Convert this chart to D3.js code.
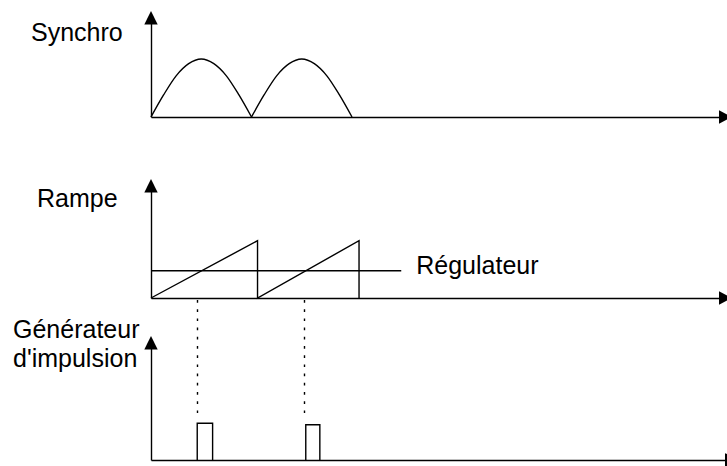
<!DOCTYPE html>
<html>
<head>
<meta charset="utf-8">
<script src="https://cdn.jsdelivr.net/npm/d3@7"></script>
<style>
  html, body { margin: 0; padding: 0; background: #fff; }
  svg { display: block; }
  text { font-family: "Liberation Sans", Arial, Helvetica, sans-serif; fill: #000; }
</style>
</head>
<body>
<svg id="chart" width="727" height="466"></svg>
<script>
// ---------------- DATA (time in ms, normalised amplitudes) ----------------
const panelLabels = ["Synchro", "Rampe", ["Générateur", "d'impulsion"]];
const regulatorLabel = "Régulateur";

// Synchro: two rectified half-waves (time, value)
const synchroArch1T = [0, 1.25, 2.5, 3.75, 5, 6.25, 7.5, 8.75, 10];
const synchroArch1V = [0, 0.38, 0.71, 0.92, 1, 0.92, 0.71, 0.38, 0];
const synchroArch2T = [10, 11.25, 12.5, 13.75, 15, 16.25, 17.5, 18.75, 20];
const synchroArch2V = [0, 0.38, 0.71, 0.92, 1, 0.92, 0.71, 0.38, 0];

// Rampe: sawtooth (time, value)
const rampeT = [0, 10.6, 10.6, 20.7, 20.7];
const rampeV = [0, 1, 0, 1, 0];

// Régulateur level and its extent
const regulatorLevel = 0.476;
const regulatorEndT = 24.9;

// Trigger instants (dotted lines) and impulse pulses
const triggerT = [4.6, 15.25];
const pulseStartT = [4.6, 15.4];
const pulseEndT = [6.13, 16.8];
const pulseHeight = [1, 0.96];

// ---------------- LAYOUT ----------------
const svg = d3.select("#chart");
const x0 = 151;
const x = d3.scaleLinear().domain([0, 20]).range([x0, 352]);
const axisEndPx = 719;      // where arrow bases sit
const ySync = d3.scaleLinear().domain([0, 1]).range([117, 59]);
const yRamp = d3.scaleLinear().domain([0, 1]).range([298, 240.7]);
const yPulse = d3.scaleLinear().domain([0, 1]).range([460, 423.3]);

const ink = "#000";
const lw = 1.4;

function arrowUp(g, cx, tipY) {
  g.append("path")
    .attr("d", `M${cx},${tipY} L${cx - 6.7},${tipY + 13.5} L${cx + 6.7},${tipY + 13.5} Z`)
    .attr("fill", ink);
}
function arrowRight(g, baseX, cy, tipX) {
  g.append("path")
    .attr("d", `M${tipX},${cy} L${baseX},${cy - 6.8} L${baseX},${cy + 6.8} Z`)
    .attr("fill", ink);
}

function drawAxes(yScale, topY, arrowBase, arrowTip) {
  const g = svg.append("g");
  // horizontal axis via d3.axisBottom without ticks
  const xAxisScale = d3.scaleLinear().domain([0, x.invert(arrowBase + 1)]).range([x0, arrowBase + 1]);
  const ax = g.append("g").attr("transform", `translate(0,${yScale(0)})`)
    .call(d3.axisBottom(xAxisScale).tickValues([]).tickSizeOuter(0));
  ax.select(".domain").attr("stroke", ink).attr("stroke-width", lw);
  arrowRight(g, arrowBase, yScale(0), arrowTip);
  // vertical axis
  const yAxisScale = d3.scaleLinear().domain([0, yScale.invert(topY + 12)]).range([yScale(0), topY + 12]);
  const ay = g.append("g").attr("transform", `translate(${x0},0)`)
    .call(d3.axisLeft(yAxisScale).tickValues([]).tickSizeOuter(0));
  ay.select(".domain").attr("stroke", ink).attr("stroke-width", lw);
  arrowUp(g, x0, topY);
  return g;
}

// ---------------- SYNCHRO ----------------
drawAxes(ySync, 11, axisEndPx, 732);
const syncLine = d3.line().x(d => x(d[0])).y(d => ySync(d[1])).curve(d3.curveMonotoneX);
[[synchroArch1T, synchroArch1V], [synchroArch2T, synchroArch2V]].forEach(([T, V]) => {
  svg.append("path")
    .attr("d", syncLine(T.map((t, i) => [t, V[i]])))
    .attr("fill", "none").attr("stroke", ink).attr("stroke-width", lw);
});

// ---------------- RAMPE ----------------
drawAxes(yRamp, 179, axisEndPx, 732);
const rampLine = d3.line().x(d => x(d[0])).y(d => yRamp(d[1]));
svg.append("path")
  .attr("d", rampLine(rampeT.map((t, i) => [t, rampeV[i]])))
  .attr("fill", "none").attr("stroke", ink).attr("stroke-width", lw).attr("stroke-linejoin", "miter");
svg.append("line")
  .attr("x1", x(0)).attr("x2", x(regulatorEndT))
  .attr("y1", yRamp(regulatorLevel)).attr("y2", yRamp(regulatorLevel))
  .attr("stroke", ink).attr("stroke-width", lw);
svg.append("text")
  .attr("x", x(regulatorEndT) + 15).attr("y", yRamp(regulatorLevel) + 3.6)
  .attr("font-size", 25).text(regulatorLabel);

// ---------------- GENERATEUR D'IMPULSION ----------------
drawAxes(yPulse, 336, 725, 740);
triggerT.forEach(t => {
  const xx = Math.round(x(t)) + 0.5;
  svg.append("line")
    .attr("x1", xx).attr("x2", xx)
    .attr("y1", yRamp(0) + 2).attr("y2", yPulse(1.23))
    .attr("stroke", ink).attr("stroke-width", 1.4)
    .attr("stroke-dasharray", "2.7,6.5");
});
const pulseLine = d3.line().x(d => x(d[0])).y(d => yPulse(d[1]));
pulseStartT.forEach((s, i) => {
  const e = pulseEndT[i], h = pulseHeight[i];
  svg.append("path")
    .attr("d", pulseLine([[s, 0], [s, h], [e, h], [e, 0]]))
    .attr("fill", "none").attr("stroke", ink).attr("stroke-width", lw);
});

// ---------------- LABELS ----------------
svg.append("text").attr("x", 31).attr("y", 41).attr("font-size", 25).text(panelLabels[0]);
svg.append("text").attr("x", 37).attr("y", 207).attr("font-size", 25).text(panelLabels[1]);
svg.append("text").attr("x", 13).attr("y", 338).attr("font-size", 25).text(panelLabels[2][0]);
svg.append("text").attr("x", 13).attr("y", 367).attr("font-size", 25).text(panelLabels[2][1]);
</script>
</body>
</html>
